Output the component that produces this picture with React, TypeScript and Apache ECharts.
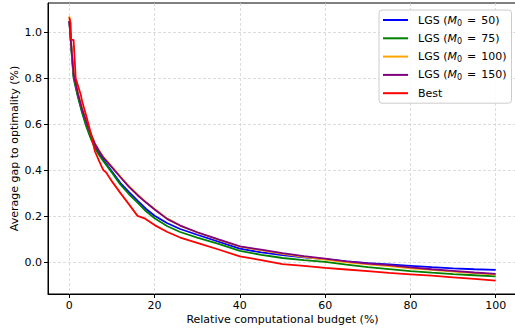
import React, { useEffect, useRef } from "react";
import * as echarts from "echarts";

// Relative computational budget (%) sample points for LGS curves
const budget = [0, 0.5, 1, 2, 3, 4, 5, 6, 7, 8, 10, 12, 14, 16, 18, 20, 23, 26, 30, 35, 40, 45, 50, 55, 60, 65, 70, 75, 80, 85, 90, 95, 100];

const lgs50 = [1.05, 0.93, 0.81, 0.725, 0.655, 0.595, 0.545, 0.503, 0.472, 0.445, 0.395, 0.345, 0.305, 0.268, 0.232, 0.203, 0.17, 0.145, 0.12, 0.09, 0.06, 0.043, 0.032, 0.022, 0.014, 0.004, -0.003, -0.009, -0.015, -0.021, -0.026, -0.03, -0.033];
const lgs75 = [1.05, 0.92, 0.8, 0.72, 0.65, 0.59, 0.54, 0.497, 0.466, 0.44, 0.39, 0.338, 0.296, 0.26, 0.222, 0.192, 0.157, 0.132, 0.108, 0.08, 0.05, 0.033, 0.019, 0.01, 0.002, -0.01, -0.021, -0.029, -0.038, -0.045, -0.051, -0.056, -0.061];
const lgs100 = [1.07, 0.94, 0.825, 0.74, 0.67, 0.613, 0.563, 0.518, 0.486, 0.458, 0.416, 0.373, 0.331, 0.295, 0.262, 0.232, 0.19, 0.16, 0.13, 0.098, 0.068, 0.052, 0.037, 0.024, 0.012, 0.0, -0.009, -0.016, -0.026, -0.033, -0.04, -0.047, -0.053];
const lgs150 = [1.05, 0.93, 0.82, 0.735, 0.665, 0.61, 0.56, 0.515, 0.483, 0.455, 0.413, 0.37, 0.328, 0.292, 0.26, 0.23, 0.188, 0.16, 0.131, 0.1, 0.07, 0.055, 0.04, 0.027, 0.016, 0.004, -0.005, -0.012, -0.022, -0.03, -0.037, -0.044, -0.05];

const bestX = [0, 0.3, 0.4, 1.0, 1.5, 2, 2.7, 3, 4, 5, 6, 7, 8, 8.6, 10, 12, 14, 16, 17.8, 20, 23, 26, 30, 35, 40, 45, 50, 55, 60, 65, 70, 75, 80, 85, 90, 95, 100];
const bestY = [1.065, 1.04, 0.967, 0.967, 0.8, 0.77, 0.728, 0.7, 0.635, 0.565, 0.483, 0.44, 0.4, 0.392, 0.352, 0.301, 0.252, 0.202, 0.19, 0.162, 0.132, 0.108, 0.085, 0.056, 0.026, 0.01, -0.008, -0.015, -0.024, -0.031, -0.038, -0.046, -0.052, -0.058, -0.065, -0.072, -0.079];

const xTicks = [0, 20, 40, 60, 80, 100];
const yTicks = [0, 0.2, 0.4, 0.6, 0.8, 1.0];

const seriesNames = ["LGS (M0 = 50)", "LGS (M0 = 75)", "LGS (M0 = 100)", "LGS (M0 = 150)", "Best"];
const seriesColors = ["#0000ff", "#008000", "#ffa500", "#800080", "#ff0000"];

const font = "DejaVu Sans";
const fs = 11;

export default function App() {
  const ref = useRef<HTMLDivElement>(null);
  useEffect(() => {
    if (!ref.current) return;
    const chart = echarts.init(ref.current, null, { renderer: "svg" });
    const pairs = (xs: number[], ys: number[]) => xs.map((x, i) => [x, ys[i]]);
    const lgsData = [lgs50, lgs75, lgs100, lgs150].map((ys) => pairs(budget, ys));
    const allData = [...lgsData, pairs(bestX, bestY)];
    const gridLine = { show: true, lineStyle: { color: "#d3d3d3", type: [3, 2] as any, width: 0.8 } };
    chart.setOption({
      animation: false,
      backgroundColor: "#ffffff",
      textStyle: { fontFamily: font },
      grid: { left: 48, right: -2, top: 3, bottom: 34, show: true, borderColor: "#000", borderWidth: 1, containLabel: false, outerBoundsMode: "none" },
      xAxis: {
        type: "value",
        min: -5,
        max: 105,
        name: "Relative computational budget (%)",
        nameLocation: "middle",
        nameGap: 20,
        nameMoveOverlap: false,
        nameTextStyle: { fontSize: fs, color: "#000", fontFamily: font },
        axisLine: { show: true, onZero: false, lineStyle: { color: "#000", width: 1 } },
        axisTick: { show: true, length: 4, customValues: xTicks, lineStyle: { color: "#000" } },
        axisLabel: { customValues: xTicks, fontSize: fs, color: "#000", margin: 6, fontFamily: font },
        splitLine: gridLine,
      },
      yAxis: {
        type: "value",
        min: -0.1375,
        max: 1.1275,
        name: "Average gap to optimality (%)",
        nameLocation: "middle",
        nameGap: 28,
        nameMoveOverlap: false,
        nameTextStyle: { fontSize: fs, color: "#000", fontFamily: font },
        axisLine: { show: true, onZero: false, lineStyle: { color: "#000", width: 1 } },
        axisTick: { show: true, length: 4, customValues: yTicks, lineStyle: { color: "#000" } },
        axisLabel: { customValues: yTicks, fontSize: fs, color: "#000", margin: 6, fontFamily: font, formatter: (v: number) => v.toFixed(1) },
        splitLine: gridLine,
      },
      legend: {
        orient: "vertical",
        left: 379,
        top: 10,
        padding: [3, 5, 3, 4],
        itemGap: 4.3,
        itemWidth: 25,
        itemHeight: 2,
        icon: "rect",
        borderColor: "#cccccc",
        borderWidth: 1,
        borderRadius: 3,
        backgroundColor: "rgba(255,255,255,0.85)",
        data: seriesNames,
        formatter: (name: string) => {
          const m = name.match(/^LGS \(M0 = (\d+)\)$/);
          if (m) return `{n|LGS (}{i|M}{s|0}{e|=}{n|${m[1]})}`;
          return `{n|${name}}`;
        },
        textStyle: {
          fontSize: fs,
          color: "#000",
          fontFamily: font,
          lineHeight: 14,
          padding: [0, 0, 0, 5],
          rich: {
            n: { fontSize: fs, color: "#000", fontFamily: font, lineHeight: 14 },
            i: { fontSize: fs, color: "#000", fontFamily: font, fontStyle: "italic", lineHeight: 14 },
            s: { fontSize: 8, color: "#000", fontFamily: font, verticalAlign: "bottom", lineHeight: 10, padding: [4, 0, 0, 0] },
            e: { fontSize: fs, color: "#000", fontFamily: font, lineHeight: 14, padding: [0, 5, 0, 5] },
          },
        },
      },
      series: allData.map((d, i) => ({
        type: "line",
        name: seriesNames[i],
        data: d,
        showSymbol: false,
        symbol: "none",
        smooth: false,
        color: seriesColors[i],
        lineStyle: { color: seriesColors[i], width: 1.8 },
        z: 2 + i,
      })),
    });
    return () => chart.dispose();
  }, []);
  return <div ref={ref} style={{ position: "fixed", left: 0, top: 0, width: 515, height: 328 }} />;
}
